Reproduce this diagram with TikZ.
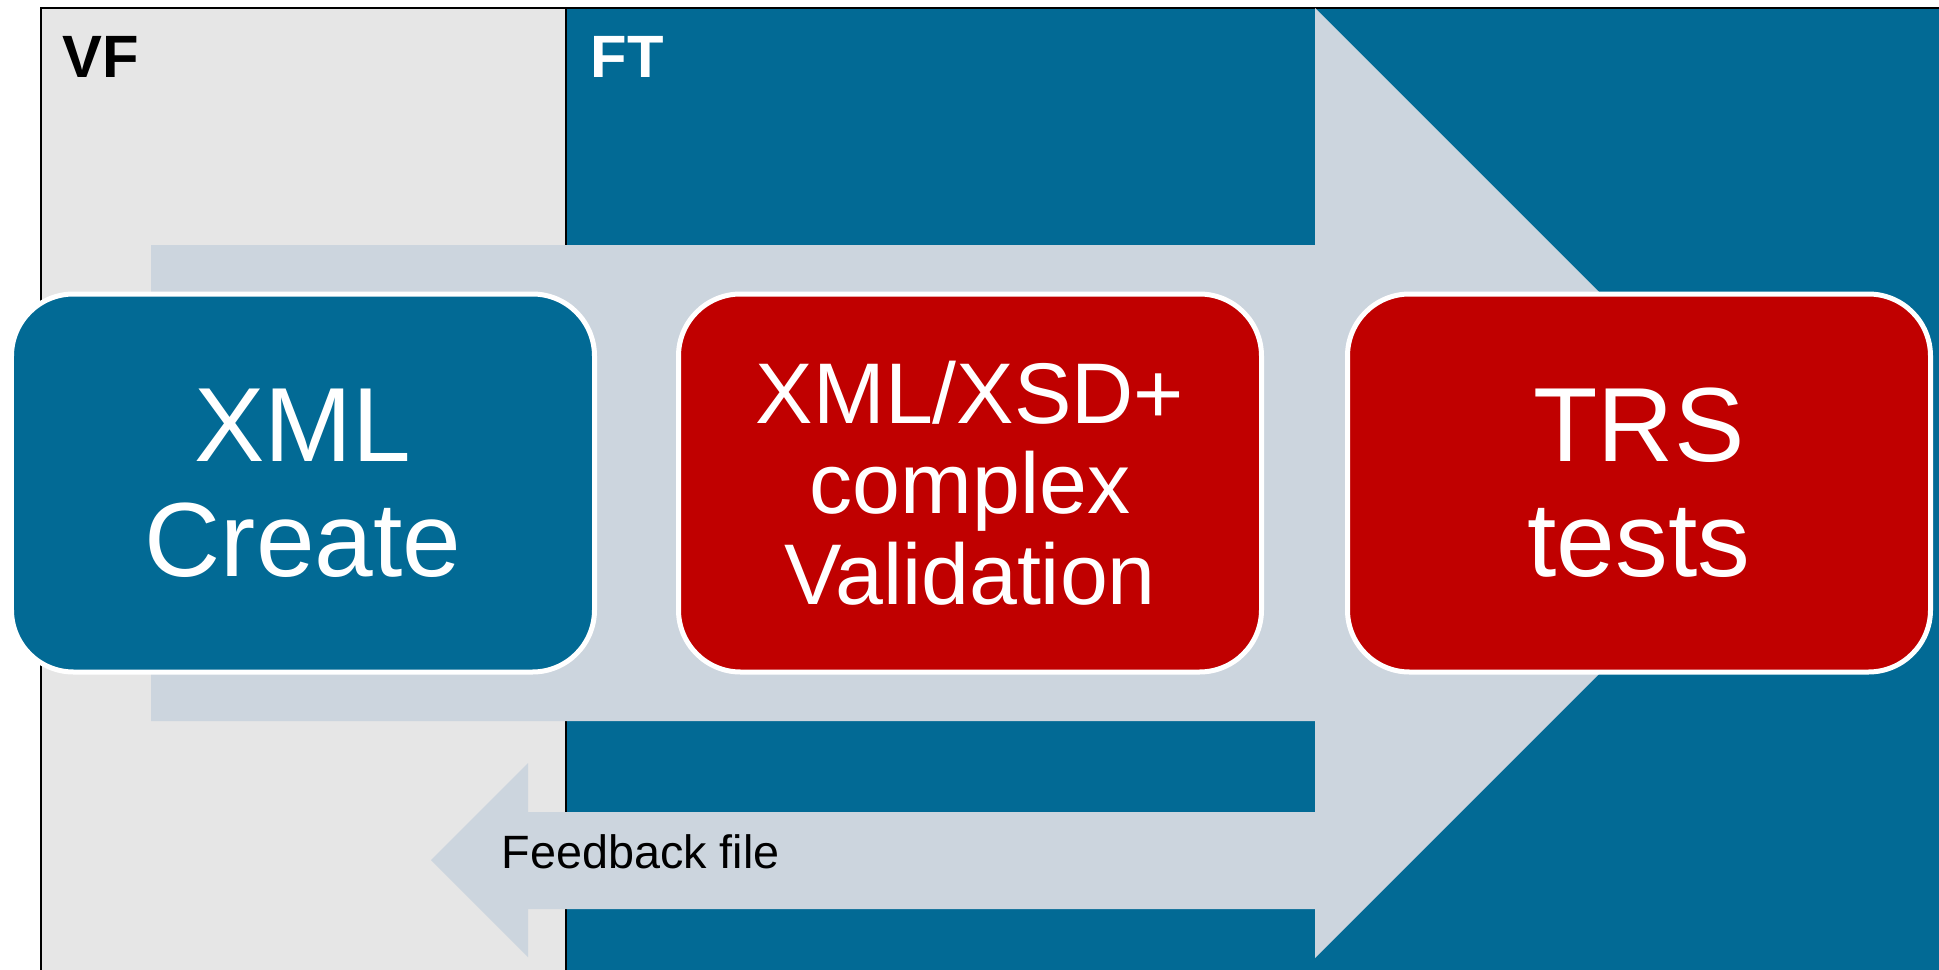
\documentclass[tikz,border=0pt]{standalone}
\usepackage{fontspec}
\setmainfont{Liberation Sans}
\definecolor{vfgrey}{RGB}{230,230,230}
\definecolor{ftblue}{RGB}{2,106,149}
\definecolor{flowgrey}{RGB}{204,213,222}
\definecolor{stepred}{RGB}{192,0,0}

\begin{document}
\begin{tikzpicture}[
  stagebox/.style={rectangle, rounded corners=0.62cm, draw=white, line width=0.05cm,
    minimum width=5.83cm, minimum height=3.78cm, inner sep=0pt, text=white, align=center},
  bigtext/.style={font=\fontsize{30}{32.7}\selectfont},
  midtext/.style={font=\fontsize{24.5}{25.8}\selectfont},
  zonelabel/.style={font=\fontsize{17}{20}\selectfont\bfseries, anchor=base west, inner sep=0pt}]
\def\width{19.39}
\def\height{9.70}
\def\top{-0.08}
\def\split{5.66}
\def\axis{-4.83}
\def\headbase{13.15}

\useasboundingbox (0,0) rectangle (\width,-\height);

% Zones
\fill[vfgrey] (0.41,\top) rectangle (\split,-\height);
\fill[ftblue] (\split,\top) rectangle (\width,-\height);
\draw[line width=0.6pt] (0.41,-\height) -- (0.41,\top) -- (\width,\top);
\draw[line width=0.6pt] (\split,\top) -- (\split,-\height);

% Flow arrows
\fill[flowgrey] (1.51,-2.45) -- (\headbase,-2.45) -- (\headbase,\top) -- (17.90,\axis)
  -- (\headbase,-9.58) -- (\headbase,-7.21) -- (1.51,-7.21) -- cycle;
\fill[flowgrey] (\headbase,-8.12) -- (5.28,-8.12) -- (5.28,-7.63) -- (4.31,-8.60)
  -- (5.28,-9.57) -- (5.28,-9.09) -- (\headbase,-9.09) -- cycle;

% Steps
\node[stagebox, fill=ftblue, bigtext] (create) at (3.03,\axis) {XML\\Create};
\node[stagebox, fill=stepred, midtext] (validate) at (9.70,\axis) {XML/XSD+\\complex\\Validation};
\node[stagebox, fill=stepred, bigtext] (trs) at (16.39,\axis) {TRS\\tests};

% Labels
\node[zonelabel] (vf) at (0.62,-0.78) {VF};
\node[zonelabel, text=white] (ft) at (5.90,-0.78) {FT};
\node[font=\fontsize{13.3}{16}\selectfont, anchor=base west, inner sep=0pt] (feedback) at (5.01,-8.68) {Feedback file};

\end{tikzpicture}
\end{document}
